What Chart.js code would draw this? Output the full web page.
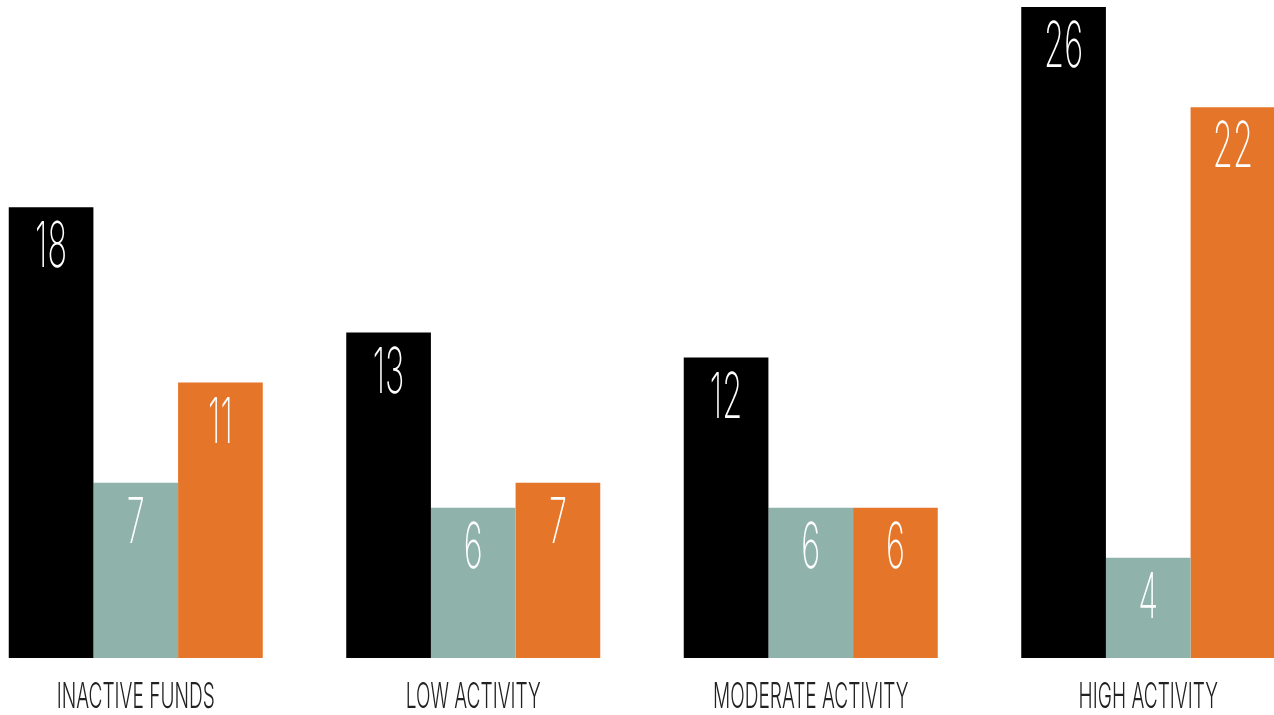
<!DOCTYPE html>
<html>
<head>
<meta charset="utf-8">
<script src="https://cdn.jsdelivr.net/npm/chart.js@4.4.1/dist/chart.umd.min.js"></script>
<style>
  html, body { margin: 0; padding: 0; background: #fff; overflow: hidden; width: 1274px; height: 715px; }
  #wrap { position: absolute; left: -33px; top: 0; width: 1350px; height: 715px; }
</style>
</head>
<body>
<div id="wrap"><canvas id="c" width="1350" height="715"></canvas></div>
<script>
const categories = ["INACTIVE FUNDS", "LOW ACTIVITY", "MODERATE ACTIVITY", "HIGH ACTIVITY"];
const seriesA = [18, 13, 12, 26];
const seriesB = [7, 6, 6, 4];
const seriesC = [11, 7, 6, 22];
const seriesNames = ["Series A", "Series B", "Series C"];
const colors = ["#000000", "#8fb3ab", "#e57528"];

const FONT = '"Inter", "Lato", "DejaVu Sans", sans-serif';

const labelPlugin = {
  id: 'labels',
  afterDatasetsDraw(chart) {
    const ctx = chart.ctx;
    ctx.save();
    // value labels
    ctx.font = '200 63px ' + FONT;
    const sxNum = 32 / ctx.measureText('18').width;
    ctx.fillStyle = '#ffffff';
    ctx.textAlign = 'center';
    ctx.textBaseline = 'alphabetic';
    chart.data.datasets.forEach((ds, di) => {
      const meta = chart.getDatasetMeta(di);
      meta.data.forEach((bar, i) => {
        ctx.save();
        ctx.translate(bar.x, bar.y + 60);
        ctx.scale(sxNum, 1);
        ctx.fillText(String(ds.data[i]), 0, 0);
        ctx.restore();
      });
    });
    // category labels
    ctx.font = '300 36px ' + FONT;
    const sxCat = 158 / ctx.measureText('INACTIVE FUNDS').width;
    ctx.fillStyle = '#222222';
    const xs = chart.scales.x;
    categories.forEach((c, i) => {
      ctx.save();
      ctx.translate(xs.getPixelForValue(i), 708);
      ctx.scale(sxCat, 1);
      ctx.fillText(c, 0, 0);
      ctx.restore();
    });
    ctx.restore();
  }
};

new Chart(document.getElementById('c'), {
  type: 'bar',
  data: {
    labels: categories,
    datasets: [
      { label: seriesNames[0], data: seriesA, backgroundColor: colors[0] },
      { label: seriesNames[1], data: seriesB, backgroundColor: colors[1] },
      { label: seriesNames[2], data: seriesC, backgroundColor: colors[2] }
    ]
  },
  options: {
    responsive: false,
    animation: false,
    devicePixelRatio: 1,
    layout: { padding: { top: 7, bottom: 57, left: 0, right: 0 } },
    plugins: { legend: { display: false }, tooltip: { enabled: false } },
    datasets: { bar: { categoryPercentage: 0.7526, barPercentage: 1.0, borderWidth: 0 } },
    scales: {
      x: { display: false, grid: { display: false } },
      y: { display: false, min: 0, max: 26, grid: { display: false } }
    }
  },
  plugins: [labelPlugin]
});
</script>
</body>
</html>
